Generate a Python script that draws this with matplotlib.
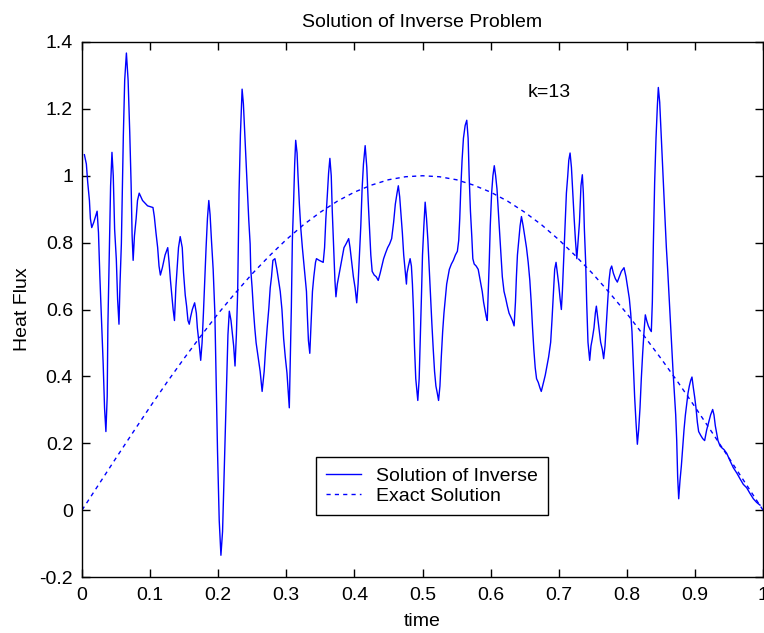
import matplotlib
matplotlib.use("Agg")
from matplotlib import pyplot as plt

plt.rcParams['font.family'] = ['Liberation Sans', 'DejaVu Sans']

# solution of the inverse problem
time_inv = [
    0.0035, 0.0064, 0.0084, 0.0109, 0.0123, 0.0143, 0.0173, 0.0222, 0.0242, 0.0262,
    0.0286, 0.0311, 0.0331, 0.0351, 0.037, 0.038, 0.04, 0.042, 0.044, 0.0459,
    0.0479, 0.0504, 0.0523, 0.0543, 0.0558, 0.0578, 0.0593, 0.0607, 0.0627, 0.0652,
    0.0677, 0.0701, 0.0721, 0.0736, 0.0751, 0.077, 0.0795, 0.0815, 0.084, 0.0889,
    0.0963, 0.1042, 0.1062, 0.1086, 0.1111, 0.1131, 0.1151, 0.118, 0.122, 0.1259,
    0.1279, 0.1299, 0.1319, 0.1338, 0.1358, 0.1378, 0.1398, 0.1417, 0.1442, 0.1472,
    0.1491, 0.1516, 0.1536, 0.1556, 0.1575, 0.1595, 0.162, 0.1654, 0.1679, 0.1694,
    0.1723, 0.1743, 0.1763, 0.1783, 0.1802, 0.1822, 0.1842, 0.1862, 0.1881, 0.1901,
    0.1926, 0.1951, 0.197, 0.199, 0.2015, 0.204, 0.2064, 0.2084, 0.2104, 0.2123,
    0.2143, 0.2163, 0.2188, 0.2207, 0.2227, 0.2247, 0.2267, 0.2286, 0.2306, 0.2326,
    0.2351, 0.237, 0.239, 0.241, 0.243, 0.2449, 0.2469,
    0.2478, 0.2498, 0.2517, 0.2537, 0.2557, 0.2586, 0.2616, 0.2645, 0.2675, 0.2695,
    0.2719, 0.2744, 0.2764, 0.2783, 0.2803, 0.2833, 0.2862, 0.2887, 0.2911, 0.2936,
    0.2961, 0.2985, 0.301, 0.303, 0.3044, 0.3059, 0.3074, 0.3089, 0.3108, 0.3123,
    0.3138, 0.3158, 0.3172, 0.3192, 0.3212, 0.3236, 0.3256, 0.3276, 0.3296, 0.331,
    0.3325, 0.3345, 0.3365, 0.3384, 0.3404, 0.3429, 0.3443, 0.3483, 0.3542, 0.3562,
    0.3581, 0.3601, 0.3621, 0.364, 0.366, 0.3675, 0.3695, 0.3714, 0.3729, 0.3749,
    0.3788, 0.3818, 0.3847, 0.3877, 0.3916, 0.3936, 0.3961, 0.3985, 0.401, 0.4034,
    0.4054, 0.4074, 0.4094, 0.4113, 0.4133, 0.4158, 0.4182, 0.4202, 0.4222, 0.4241,
    0.4261, 0.4291, 0.432, 0.435, 0.4379, 0.4404, 0.4429, 0.4458, 0.4488, 0.4517,
    0.4547, 0.4576, 0.4601, 0.4626, 0.4645, 0.4665, 0.4685, 0.4704, 0.4724, 0.4744,
    0.4764, 0.4773, 0.4793, 0.4818, 0.4837, 0.4852, 0.4867, 0.4882, 0.4901, 0.4921,
    0.4931, 0.4951, 0.4966, 0.4985, 0.5, 0.502, 0.5039, 0.5059, 0.5079, 0.5099,
    0.5118, 0.5138, 0.5158, 0.5177, 0.5197, 0.5217, 0.5236, 0.5256, 0.5276, 0.5296,
    0.5315, 0.5335, 0.5355, 0.5374, 0.5394, 0.5424, 0.5453, 0.5483, 0.5512, 0.5532,
    0.5547, 0.5562, 0.5581, 0.5601, 0.5626, 0.565, 0.567, 0.5685, 0.5704, 0.5724,
    0.5739, 0.5759, 0.5788, 0.5818, 0.5837, 0.5857, 0.5877, 0.5897, 0.5916, 0.5936,
    0.5951, 0.5966, 0.598, 0.5995, 0.6015, 0.6034, 0.6054, 0.6074, 0.6094, 0.6113,
    0.6133, 0.6153, 0.6172, 0.6197, 0.6222, 0.6246, 0.6271, 0.6296, 0.632, 0.6345,
    0.6365, 0.6379, 0.6394, 0.6414, 0.6433, 0.6453, 0.6478, 0.6502, 0.6527, 0.6552,
    0.6576, 0.6596, 0.6616, 0.6635, 0.6655, 0.6675, 0.67, 0.6724, 0.6744, 0.6764,
    0.6783, 0.6803, 0.6823, 0.6852, 0.6882, 0.6901, 0.6921, 0.6941, 0.6961, 0.698,
    0.7, 0.702, 0.7039, 0.7054, 0.7069, 0.7084, 0.7099, 0.7113, 0.7133, 0.7148,
    0.7167, 0.7187, 0.7207, 0.7227, 0.7246, 0.7266, 0.7286, 0.7305,
    0.7327, 0.7347, 0.7362, 0.7377, 0.7396, 0.7411, 0.743, 0.7455, 0.7474, 0.7494,
    0.7518, 0.7538, 0.7553, 0.7577, 0.7597, 0.7616, 0.7641, 0.766, 0.768, 0.7699,
    0.7719, 0.7739, 0.7758, 0.7778, 0.7802, 0.7832, 0.7861, 0.789, 0.792, 0.7959,
    0.7988, 0.8013, 0.8037, 0.8057, 0.8076, 0.8096, 0.8115, 0.8135, 0.8155, 0.8174,
    0.8194, 0.8213, 0.8233, 0.8253, 0.8272, 0.8292, 0.8316, 0.8341, 0.836, 0.8375,
    0.839, 0.8409, 0.8429, 0.8449, 0.8463, 0.8483, 0.8502, 0.8522, 0.8542, 0.8561,
    0.8581, 0.86, 0.862, 0.864, 0.8659, 0.8679, 0.8698, 0.8718, 0.8733, 0.8747,
    0.8762, 0.8781, 0.8801, 0.8821, 0.884, 0.886, 0.8879, 0.8899, 0.8918, 0.8938,
    0.8957, 0.8977, 0.8996, 0.9016, 0.9036, 0.9055, 0.9084, 0.9114, 0.9143, 0.9173,
    0.9202, 0.9231, 0.9261, 0.928, 0.93, 0.932, 0.9339, 0.9369, 0.9398, 0.9427,
    0.9467, 0.9515, 0.9564, 0.9618, 0.9662, 0.9711, 0.976, 0.9809, 0.9858, 0.9907,
    0.9956,
]
flux_inv = [
    1.063, 1.035, 0.98, 0.926, 0.872, 0.845, 0.861, 0.894, 0.83, 0.70,
    0.567, 0.437, 0.306, 0.235, 0.34, 0.55, 0.76, 0.97, 1.07, 1.0,
    0.84, 0.75, 0.63, 0.556, 0.676, 0.796, 0.96, 1.12, 1.286, 1.367,
    1.286, 1.13, 0.976, 0.82, 0.747, 0.82, 0.872, 0.926, 0.948, 0.926,
    0.91, 0.905, 0.878, 0.83, 0.785, 0.73, 0.703, 0.725, 0.763, 0.785,
    0.74, 0.687, 0.643, 0.60, 0.567, 0.665, 0.725, 0.785, 0.818, 0.785,
    0.71, 0.643, 0.61, 0.567, 0.556, 0.578, 0.60, 0.62, 0.589, 0.545,
    0.491, 0.448, 0.50, 0.589, 0.687, 0.785, 0.872, 0.926, 0.883, 0.807,
    0.72, 0.589, 0.382, 0.176, -0.031, -0.135, -0.064, 0.083, 0.23, 0.377,
    0.524, 0.595, 0.567, 0.529, 0.491, 0.431, 0.524, 0.654, 0.948, 1.122,
    1.259, 1.215, 1.128, 1.046, 0.954, 0.867, 0.796,
    0.72, 0.665, 0.60, 0.545, 0.50, 0.458, 0.415, 0.355, 0.415, 0.48,
    0.545, 0.605, 0.665, 0.698, 0.747, 0.752, 0.72, 0.687, 0.654, 0.60,
    0.513, 0.458, 0.41, 0.35, 0.306, 0.458, 0.605, 0.807, 0.926, 1.035,
    1.106, 1.068, 1.0, 0.915, 0.845, 0.785, 0.741, 0.698, 0.654, 0.578,
    0.507, 0.469, 0.567, 0.654, 0.698, 0.741, 0.752, 0.747, 0.741, 0.785,
    0.872, 0.937, 1.008, 1.052, 1.0, 0.894, 0.785, 0.687, 0.638, 0.676,
    0.72, 0.752, 0.785, 0.796, 0.812, 0.785, 0.741, 0.698, 0.665, 0.62,
    0.676, 0.763, 0.85, 0.96, 1.035, 1.09, 1.025, 0.926, 0.839, 0.763,
    0.714, 0.703, 0.698, 0.687, 0.709, 0.73, 0.752, 0.769, 0.785, 0.796,
    0.812, 0.861, 0.915, 0.948, 0.97, 0.937, 0.883, 0.83, 0.763, 0.72,
    0.676, 0.709, 0.73, 0.752, 0.73, 0.676, 0.60, 0.491, 0.393, 0.35,
    0.328, 0.393, 0.502, 0.643, 0.763, 0.85, 0.921, 0.872, 0.807, 0.72,
    0.633, 0.556, 0.48, 0.415, 0.371, 0.35, 0.328, 0.371, 0.458, 0.534,
    0.589, 0.633, 0.676, 0.698, 0.72, 0.736, 0.747, 0.763, 0.774, 0.807,
    0.872, 0.96, 1.046, 1.112, 1.15, 1.166, 1.112, 1.0, 0.894, 0.818,
    0.752, 0.736, 0.73, 0.72, 0.698, 0.676, 0.654, 0.622, 0.60, 0.578,
    0.567, 0.654, 0.741, 0.85, 0.948, 1.0, 1.03, 1.0, 0.96, 0.894,
    0.828, 0.763, 0.698, 0.654, 0.633, 0.61, 0.589, 0.578, 0.567, 0.551,
    0.622, 0.698, 0.763, 0.807, 0.85, 0.878, 0.85, 0.818, 0.785, 0.741,
    0.687, 0.622, 0.545, 0.48, 0.426, 0.393, 0.382, 0.366, 0.355, 0.371,
    0.387, 0.404, 0.426, 0.458, 0.502, 0.567, 0.643, 0.72, 0.741, 0.709,
    0.676, 0.633, 0.60, 0.654, 0.73, 0.807, 0.883, 0.948, 1.0, 1.046,
    1.068, 1.025, 0.948, 0.872, 0.807, 0.752, 0.807, 0.861,
    0.97, 1.003, 0.948, 0.84, 0.741, 0.62, 0.502, 0.448, 0.491, 0.513,
    0.545, 0.589, 0.61, 0.567, 0.534, 0.502, 0.48, 0.453, 0.491, 0.556,
    0.622, 0.687, 0.72, 0.73, 0.709, 0.692, 0.682, 0.698, 0.714, 0.725,
    0.698, 0.665, 0.633, 0.589, 0.534, 0.437, 0.339, 0.263, 0.197, 0.24,
    0.306, 0.393, 0.469, 0.534, 0.584, 0.567, 0.551, 0.54, 0.534, 0.622,
    0.796, 0.98, 1.112, 1.21, 1.264, 1.22, 1.134, 1.046, 0.948, 0.872,
    0.785, 0.72, 0.643, 0.567, 0.491, 0.415, 0.35, 0.285, 0.208, 0.099,
    0.034, 0.088, 0.132, 0.186, 0.24, 0.284, 0.317, 0.35, 0.371, 0.388,
    0.398, 0.366, 0.339, 0.306, 0.263, 0.235, 0.224, 0.214, 0.208, 0.24,
    0.263, 0.285, 0.301, 0.285, 0.252, 0.23, 0.208, 0.192, 0.186, 0.181,
    0.17, 0.148, 0.127, 0.11, 0.094, 0.077, 0.067, 0.05, 0.034, 0.023,
    0.015,
]

# exact solution (dashed curve)
time_exact = [0.0, 0.025, 0.05, 0.075, 0.1, 0.125, 0.15, 0.175, 0.2, 0.225,
              0.25, 0.275, 0.3, 0.325, 0.35, 0.375, 0.4, 0.425, 0.45, 0.475,
              0.5, 0.525, 0.55, 0.575, 0.6, 0.625, 0.65, 0.675, 0.7, 0.725,
              0.75, 0.775, 0.8, 0.825, 0.85, 0.875, 0.9, 0.925, 0.95, 0.975, 1.0]
flux_exact = [0.0, 0.078, 0.156, 0.233, 0.309, 0.383, 0.454, 0.522, 0.588, 0.649,
              0.707, 0.760, 0.809, 0.853, 0.891, 0.924, 0.951, 0.972, 0.988, 0.997,
              1.0, 0.997, 0.988, 0.972, 0.951, 0.924, 0.891, 0.853, 0.809, 0.760,
              0.707, 0.649, 0.588, 0.522, 0.454, 0.383, 0.309, 0.233, 0.156, 0.078, 0.0]

x_ticks = [0, 0.1, 0.2, 0.3, 0.4, 0.5, 0.6, 0.7, 0.8, 0.9, 1]
x_labels = ['0', '0.1', '0.2', '0.3', '0.4', '0.5', '0.6', '0.7', '0.8', '0.9', '1']
y_ticks = [-0.2, 0, 0.2, 0.4, 0.6, 0.8, 1, 1.2, 1.4]
y_labels = ['-0.2', '0', '0.2', '0.4', '0.6', '0.8', '1', '1.2', '1.4']

fig = plt.figure(figsize=(7.64, 6.33), dpi=100)
ax = fig.add_axes([82 / 764, 1 - 577 / 633, 681 / 764, 535 / 633])

ax.plot(time_inv, flux_inv, color='#0000ff', lw=1.0, label='Solution of Inverse')
ax.plot(time_exact, flux_exact, color='#0000ff', lw=1.0, ls=(0, (3, 3)), label='Exact Solution')

ax.set_xlim(0, 1)
ax.set_ylim(-0.2, 1.4)
ax.set_xticks(x_ticks)
ax.set_xticklabels(x_labels)
ax.set_yticks(y_ticks)
ax.set_yticklabels(y_labels)
ax.tick_params(direction='in', length=6, width=1, top=True, right=True,
               labelsize=14, colors='black')
ax.tick_params(axis='x', pad=7)
ax.tick_params(axis='y', pad=6.5)
for s in ax.spines.values():
    s.set_linewidth(1)

ax.set_title('Solution of Inverse Problem', fontsize=14, pad=11)
ax.set_xlabel('time', fontsize=14, labelpad=7)
ax.set_ylabel('Heat Flux', fontsize=14, labelpad=6)
ax.text(0.655, 1.248, 'k=13', fontsize=14, va='center')

leg = ax.legend(loc='lower left', bbox_to_anchor=(0.3436, 0.1159), borderaxespad=0,
                fancybox=False, framealpha=1, edgecolor='black', fontsize=14,
                handlelength=1.8, handletextpad=0.8, borderpad=0.5, labelspacing=0.15)
leg.get_frame().set_linewidth(1)

fig.savefig('out.png', dpi=100)
